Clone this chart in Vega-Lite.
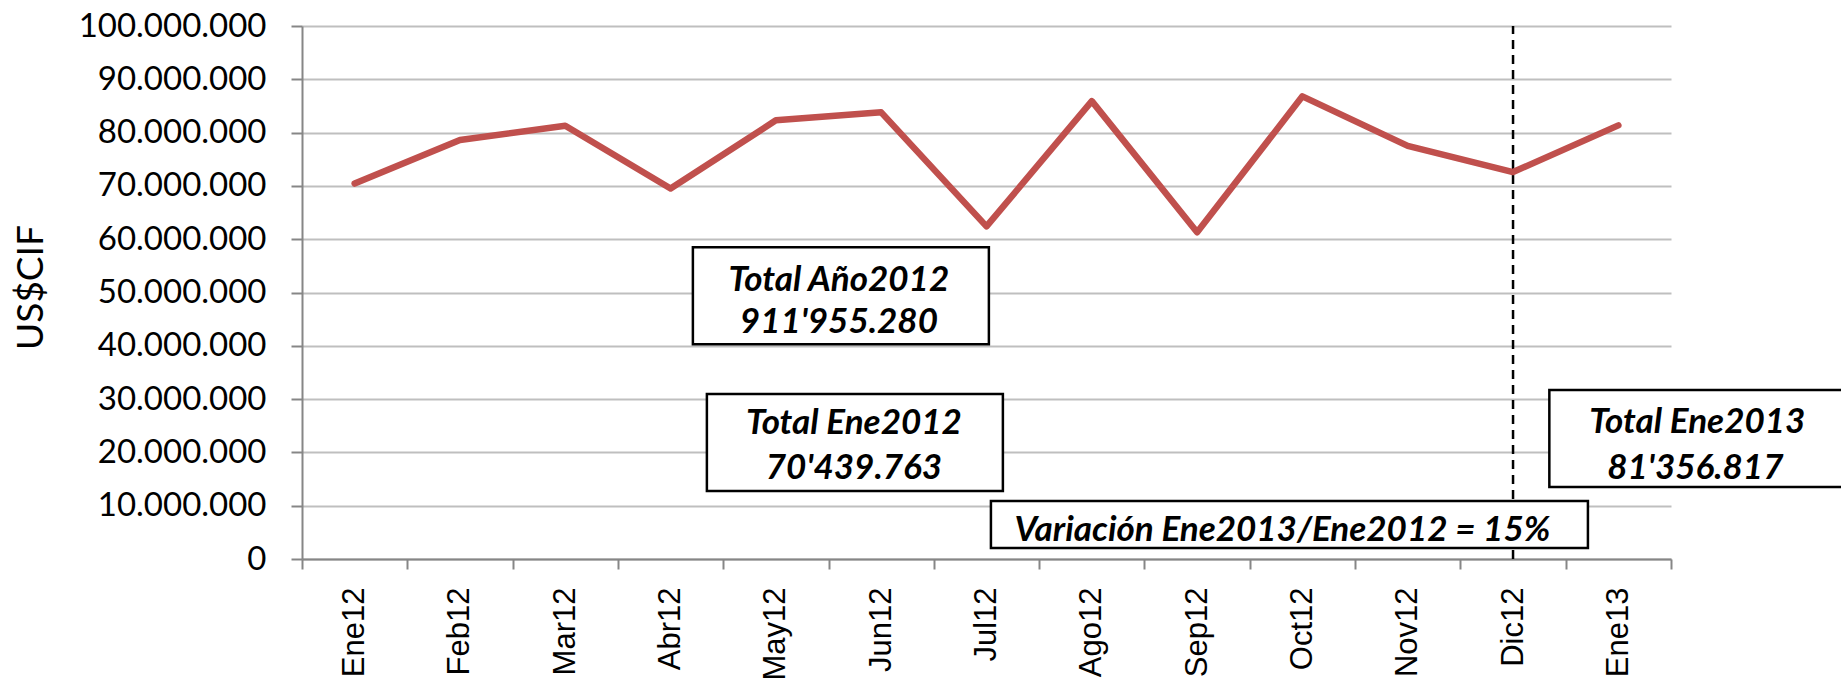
{
  "$schema": "https://vega.github.io/schema/vega-lite/v6.json",
  "width": 1369,
  "height": 533,
  "autosize": {"type": "none"},
  "padding": {"left": 302, "top": 26, "right": 170, "bottom": 132},
  "background": "white",
  "config": {
    "view": {"stroke": null},
    "locale": {"number": {"decimal": ",", "thousands": ".", "grouping": [3], "currency": ["$", ""]}}
  },
  "datasets": {
    "series": [
      {"cat": "Ene12", "v": 70439763},
      {"cat": "Feb12", "v": 78600000},
      {"cat": "Mar12", "v": 81300000},
      {"cat": "Abr12", "v": 69500000},
      {"cat": "May12", "v": 82300000},
      {"cat": "Jun12", "v": 83800000},
      {"cat": "Jul12", "v": 62400000},
      {"cat": "Ago12", "v": 85900000},
      {"cat": "Sep12", "v": 61300000},
      {"cat": "Oct12", "v": 86800000},
      {"cat": "Nov12", "v": 77500000},
      {"cat": "Dic12", "v": 72600000},
      {"cat": "Ene13", "v": 81356817}
    ],
    "notes": [
      {"id": "anio", "cat": "May12", "v": 49400000, "l1": "Total Año2012", "l2": "911'955.280"},
      {"id": "ene12", "cat": "May12", "v": 21860000, "l1": "Total Ene2012", "l2": "70'439.763"},
      {"id": "ene13", "cat": "Ene13", "v": 22600000, "l1": "Total Ene2013", "l2": "81'356.817"},
      {"id": "var", "cat": "Oct12", "v": 6470000, "l1": "Variación Ene2013/Ene2012 = 15%"}
    ],
    "marker": [
      {"cat": "Dic12", "v": 0, "v2": 100000000}
    ]
  },
  "encoding": {
    "x": {
      "field": "cat",
      "type": "ordinal",
      "sort": null,
      "scale": {
        "domain": ["Ene12", "Feb12", "Mar12", "Abr12", "May12", "Jun12", "Jul12", "Ago12", "Sep12", "Oct12", "Nov12", "Dic12", "Ene13"],
        "paddingInner": 0,
        "paddingOuter": 0
      },
      "axis": {
        "title": null,
        "labelAngle": -90,
        "labelAlign": "right",
        "labelBaseline": "middle",
        "labelFont": "Liberation Sans",
        "labelFontSize": 31,
        "labelColor": "black",
        "labelPadding": 18,
        "labelOverlap": false,
        "labelLimit": 400,
        "tickBand": "extent",
        "tickSize": 10,
        "tickColor": "#868686",
        "tickWidth": 2,
        "domainColor": "#868686",
        "domainWidth": 2,
        "grid": false
      }
    },
    "y": {
      "field": "v",
      "type": "quantitative",
      "scale": {"domain": [0, 100000000], "nice": false},
      "axis": {
        "title": "US$CIF",
        "values": [0, 10000000, 20000000, 30000000, 40000000, 50000000, 60000000, 70000000, 80000000, 90000000, 100000000],
        "format": ",d",
        "labelFont": "Lato",
        "labelFontSize": 33,
        "labelColor": "black",
        "labelPadding": 25,
        "labelLimit": 400,
        "labelOverlap": false,
        "tickSize": 11,
        "tickColor": "#868686",
        "tickWidth": 2,
        "domainColor": "#868686",
        "domainWidth": 2,
        "grid": true,
        "gridColor": "#BFBFBF",
        "gridWidth": 2,
        "titleFont": "Lato",
        "titleFontSize": 37,
        "titleFontWeight": "normal",
        "titleColor": "black",
        "titleAngle": -90,
        "titleX": -271,
        "titleY": 261,
        "titleAlign": "center",
        "titleBaseline": "middle"
      }
    }
  },
  "layer": [
    {
      "data": {"name": "marker"},
      "mark": {"type": "rule", "color": "black", "strokeWidth": 2.5, "strokeDash": [9, 6]},
      "encoding": {"y2": {"field": "v2"}}
    },
    {
      "data": {"name": "series"},
      "mark": {"type": "line", "color": "#C0504D", "strokeWidth": 6.5, "strokeCap": "round", "strokeJoin": "round"}
    },
    {
      "data": {"name": "notes"},
      "transform": [{"filter": "datum.id == 'anio'"}],
      "layer": [
        {"mark": {"type": "point", "shape": "M-1,-0.3277L1,-0.3277L1,0.3277L-1,0.3277Z", "size": 87616, "filled": true, "fill": "white", "stroke": "black", "strokeWidth": 2.5, "opacity": 1, "xOffset": 65}},
        {"mark": {"type": "text", "font": "Lato", "fontSize": 35, "fontWeight": "bold", "fontStyle": "italic", "color": "black", "xOffset": 63, "dy": -16}, "encoding": {"text": {"field": "l1"}}},
        {"mark": {"type": "text", "font": "Lato", "fontSize": 35, "fontWeight": "bold", "fontStyle": "italic", "color": "black", "xOffset": 63, "dy": 26}, "encoding": {"text": {"field": "l2"}}}
      ]
    },
    {
      "data": {"name": "notes"},
      "transform": [{"filter": "datum.id == 'ene12'"}],
      "layer": [
        {"mark": {"type": "point", "shape": "M-1,-0.3277L1,-0.3277L1,0.3277L-1,0.3277Z", "size": 87616, "filled": true, "fill": "white", "stroke": "black", "strokeWidth": 2.5, "opacity": 1, "xOffset": 79}},
        {"mark": {"type": "text", "font": "Lato", "fontSize": 35, "fontWeight": "bold", "fontStyle": "italic", "color": "black", "xOffset": 78, "dy": -19}, "encoding": {"text": {"field": "l1"}}},
        {"mark": {"type": "text", "font": "Lato", "fontSize": 35, "fontWeight": "bold", "fontStyle": "italic", "color": "black", "xOffset": 78, "dy": 26}, "encoding": {"text": {"field": "l2"}}}
      ]
    },
    {
      "data": {"name": "notes"},
      "transform": [{"filter": "datum.id == 'ene13'"}],
      "layer": [
        {"mark": {"type": "point", "shape": "M-1,-0.3277L1,-0.3277L1,0.3277L-1,0.3277Z", "size": 87616, "filled": true, "fill": "white", "stroke": "black", "strokeWidth": 2.5, "opacity": 1, "xOffset": 79}},
        {"mark": {"type": "text", "font": "Lato", "fontSize": 35, "fontWeight": "bold", "fontStyle": "italic", "color": "black", "xOffset": 79, "dy": -17}, "encoding": {"text": {"field": "l1"}}},
        {"mark": {"type": "text", "font": "Lato", "fontSize": 35, "fontWeight": "bold", "fontStyle": "italic", "color": "black", "xOffset": 77, "dy": 29}, "encoding": {"text": {"field": "l2"}}}
      ]
    },
    {
      "data": {"name": "notes"},
      "transform": [{"filter": "datum.id == 'var'"}],
      "layer": [
        {"mark": {"type": "point", "shape": "M-1,-0.0787L1,-0.0787L1,0.0787L-1,0.0787Z", "size": 356409, "filled": true, "fill": "white", "stroke": "black", "strokeWidth": 2.5, "opacity": 1, "xOffset": -13}},
        {"mark": {"type": "text", "font": "Lato", "fontSize": 35, "fontWeight": "bold", "fontStyle": "italic", "color": "black", "xOffset": -20, "dy": 5}, "encoding": {"text": {"field": "l1"}}}
      ]
    }
  ]
}
